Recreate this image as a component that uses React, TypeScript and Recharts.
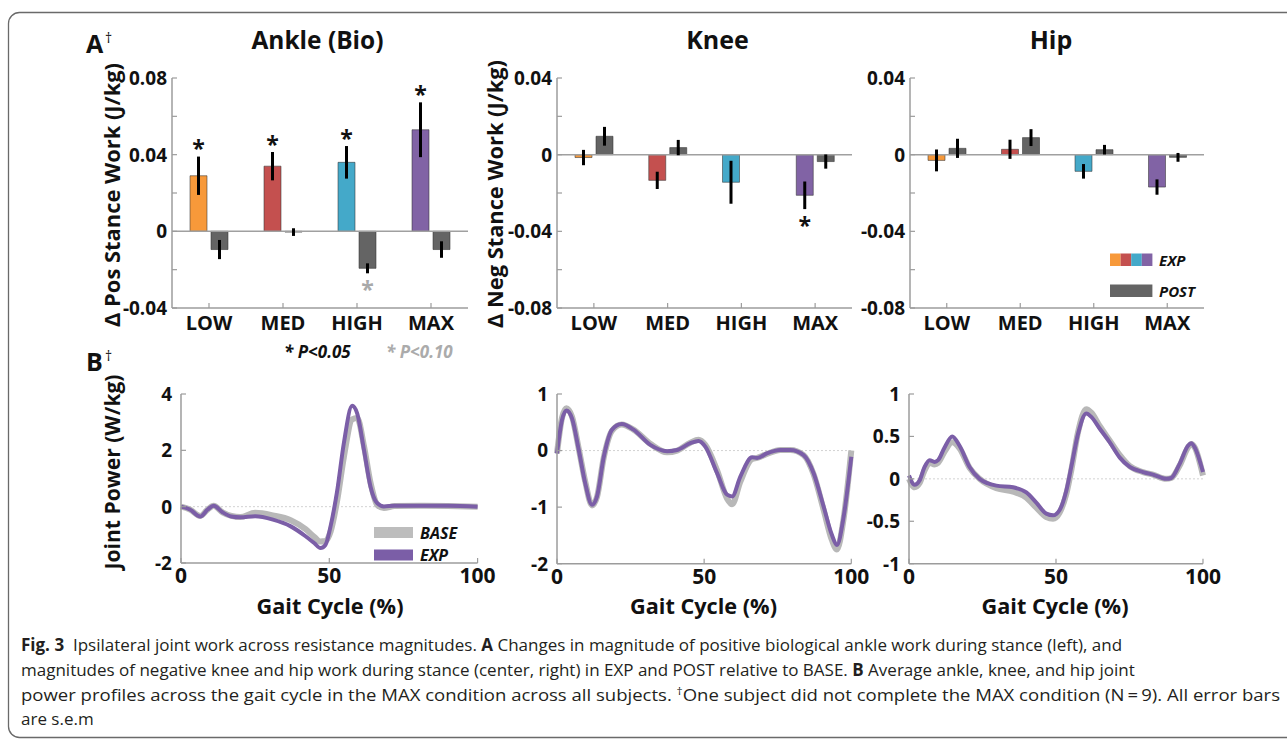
import React from 'react';
import {
  ComposedChart,
  Bar,
  Cell,
  ErrorBar,
  XAxis,
  YAxis,
  ReferenceLine,
  LabelList,
  LineChart,
  Line,
} from 'recharts';

const FONT = '"Open Sans", "Noto Sans", "DejaVu Sans", sans-serif';
const AXIS = '#9c9c9c';
const INK = '#111111';

// ---------------- Panel A data ----------------
const categories = ['LOW', 'MED', 'HIGH', 'MAX'];
const expColors = ['#F7993A', '#C4504F', '#44A9C9', '#8163A5'];
const postColor = '#646464';

const ankleExp = [0.029, 0.034, 0.036, 0.053];
const ankleExpErr = [0.01, 0.0074, 0.0085, 0.0143];
const ankleExpSig = ['*', '*', '*', '*'];
const anklePost = [-0.0095, -0.0004, -0.0193, -0.0095];
const anklePostErr = [0.005, 0.002, 0.0026, 0.0043];
const anklePostSig = ['', '', 'gray', ''];

const kneeExp = [-0.0015, -0.0134, -0.0144, -0.0212];
const kneeExpErr = [0.004, 0.0045, 0.0112, 0.0072];
const kneeExpSig = ['', '', '', '*'];
const kneePost = [0.0096, 0.0037, 0, -0.0036];
const kneePostErr = [0.0049, 0.004, 0.006, 0.0037];

const hipExp = [-0.003, 0.0028, -0.0087, -0.0169];
const hipExpErr = [0.0057, 0.005, 0.0038, 0.004];
const hipPost = [0.0033, 0.0089, 0.0026, -0.0014];
const hipPostErr = [0.005, 0.0044, 0.0025, 0.0023];
const noSig = ['', '', '', ''];

const posWorkTicks = [-0.04, -0.02, 0, 0.02, 0.04, 0.06, 0.08];
const posWorkLabels = ['-0.04', '', '0', '', '0.04', '', '0.08'];
const negWorkTicks = [-0.08, -0.06, -0.04, -0.02, 0, 0.02, 0.04];
const negWorkLabels = ['-0.08', '', '-0.04', '', '0', '', '0.04'];

// ---------------- Panel B data ----------------
const gaitTicks = [0, 50, 100];

const ankleGait = [0, 3, 6.5, 9, 11, 14, 17, 20, 25, 31, 37, 42, 45, 47, 48.7, 50.4, 52.7, 54.9, 57.7, 59.4, 61.7, 63.9, 66.2, 68.4, 72, 80, 90, 100];
const ankleBasePower = [0, -0.1, -0.33, -0.1, 0.03, -0.2, -0.33, -0.37, -0.22, -0.31, -0.48, -0.8, -1.08, -1.24, -1.22, -0.9, 0.25, 1.75, 3.1, 3.15, 2.15, 0.85, 0.06, -0.05, 0.02, 0.03, 0.02, 0];
const ankleExpPower = [0, -0.1, -0.35, -0.1, 0.03, -0.2, -0.35, -0.38, -0.34, -0.46, -0.7, -1.05, -1.3, -1.47, -1.36, -0.71, 0.59, 2.25, 3.58, 3.31, 2.01, 0.71, 0.12, 0.01, 0.03, 0.03, 0.03, 0];
const ankleTicks = [-2, 0, 2, 4];
const ankleTickLabels = ['-2', '0', '2', '4'];

const kneeGait = [0, 1.7, 3.2, 5.1, 7.4, 9.6, 11.9, 13.6, 15.9, 18.7, 22, 26, 31.7, 37.4, 40.8, 45.3, 48.1, 50.4, 54.4, 57.8, 59.5, 62.3, 66.3, 68, 71.3, 75.9, 79.3, 83.8, 87.2, 90.6, 93.4, 95.1, 97.4, 100];
const kneeBasePower = [-0.05, 0.58, 0.75, 0.6, 0.03, -0.55, -0.97, -0.82, -0.12, 0.35, 0.46, 0.37, 0.12, -0.03, 0, 0.14, 0.19, 0.1, -0.35, -0.85, -0.95, -0.55, -0.15, -0.13, -0.06, 0.01, 0.01, -0.08, -0.42, -1.05, -1.58, -1.75, -1.2, 0];
const kneeExpPower = [-0.05, 0.54, 0.71, 0.57, 0.01, -0.58, -0.96, -0.81, -0.11, 0.37, 0.47, 0.37, 0.1, -0.01, 0.01, 0.13, 0.17, 0.07, -0.4, -0.78, -0.81, -0.46, -0.12, -0.13, -0.05, 0.01, 0.01, -0.08, -0.4, -0.99, -1.49, -1.67, -1.17, -0.11];
const kneeTicks = [-2, -1, 0, 1];
const kneeTickLabels = ['-2', '-1', '0', '1'];

const hipGait = [0, 1.9, 3.6, 5.3, 7, 8.7, 9.9, 12.1, 14.7, 17.2, 20.6, 24, 29.7, 35.4, 39.9, 43.3, 46.7, 49, 51.2, 53.5, 55.2, 57.5, 60.3, 62, 64.9, 68.3, 71.7, 75.1, 79.6, 83, 87.5, 89.2, 92.1, 94.9, 96, 97.2, 100];
const hipBasePower = [0, -0.1, -0.05, 0.1, 0.19, 0.17, 0.19, 0.32, 0.43, 0.36, 0.13, 0, -0.11, -0.15, -0.22, -0.34, -0.45, -0.47, -0.4, -0.18, 0.1, 0.55, 0.82, 0.78, 0.62, 0.45, 0.28, 0.15, 0.08, 0.05, 0, 0.01, 0.16, 0.37, 0.41, 0.37, 0.04];
const hipExpPower = [0.04, -0.07, -0.02, 0.14, 0.22, 0.2, 0.22, 0.37, 0.5, 0.39, 0.14, 0, -0.08, -0.1, -0.16, -0.28, -0.41, -0.43, -0.37, -0.14, 0.14, 0.53, 0.77, 0.73, 0.59, 0.43, 0.25, 0.14, 0.08, 0.05, 0, 0.01, 0.18, 0.39, 0.42, 0.37, 0.08];
const hipTicks = [-1, -0.5, 0, 0.5, 1];
const hipTickLabels = ['-1', '-0.5', '0', '0.5', '1'];

// ---------------- helpers ----------------
type Box = { l: number; r: number; t: number; b: number };

const valTick = (ticks: number[], labels: string[], gap: number, size: number) => (p: any) => {
  const v = Number(p?.payload?.value);
  const idx = ticks.findIndex((t) => Math.abs(t - v) < 1e-9);
  const lab = idx >= 0 ? labels[idx] : '';
  return (
    <g>
      <line x1={p.x} x2={p.x + 5} y1={p.y} y2={p.y} stroke={AXIS} strokeWidth={1.2} />
      {lab ? (
        <text x={p.x - gap} y={p.y} dy="0.36em" textAnchor="end" fontFamily={FONT} fontWeight={700} fontSize={size} fill={INK}>
          {lab}
        </text>
      ) : null}
    </g>
  );
};

const bottomTick = (size: number, dy: number) => (p: any) => (
  <g>
    <line x1={p.x} x2={p.x} y1={p.y} y2={p.y - 5} stroke={AXIS} strokeWidth={1.2} />
    <text x={p.x} y={p.y} dy={dy} textAnchor="middle" fontFamily={FONT} fontWeight={700} fontSize={size} fill={INK}>
      {String(p?.payload?.value)}
    </text>
  </g>
);

const starContent = (means: number[], errs: number[], sigs: string[]) => (props: any) => {
  const vb = props.viewBox || {};
  const x = Number(props.x ?? vb.x);
  const y = Number(props.y ?? vb.y);
  const w = Number(props.width ?? vb.width);
  const h = Number(props.height ?? vb.height);
  const i = categories.indexOf(String(props.value));
  if (i < 0 || !sigs[i]) return null;
  const m = means[i];
  const e = errs[i];
  const top = Math.min(y, y + h);
  const bot = Math.max(y, y + h);
  const len = bot - top;
  if (!len || !m || !isFinite(len)) return null;
  const ePx = (len * e) / Math.abs(m);
  const cx = x + w / 2;
  const cy = m > 0 ? top - ePx - 12 : bot + ePx + 12;
  return (
    <text x={cx} y={cy} dy="0.55em" textAnchor="middle" fontFamily={FONT} fontWeight={700} fontSize={23} fill={sigs[i] === 'gray' ? '#a9a9a9' : INK}>
      *
    </text>
  );
};

function WorkPanel(props: {
  box: Box;
  ticks: number[];
  labels: string[];
  exp: number[];
  expErr: number[];
  expSig: string[];
  post: number[];
  postErr: number[];
  postSig: string[];
}) {
  const { box, ticks, labels, exp, expErr, expSig, post, postErr, postSig } = props;
  const data = categories.map((c, i) => ({ cat: c, exp: exp[i], expErr: expErr[i], post: post[i], postErr: postErr[i] }));
  const yw = 80;
  const mt = 14;
  const mr = 12;
  const xh = 40;
  const width = box.r - box.l + yw + mr;
  const height = box.b - box.t + mt + xh;
  return (
    <div style={{ position: 'absolute', left: box.l - yw, top: box.t - mt, width, height }}>
      <ComposedChart width={width} height={height} data={data} margin={{ top: mt, right: mr, bottom: 0, left: 0 }} barSize={17} barGap={4}>
        <XAxis
          dataKey="cat"
          height={xh}
          interval={0}
          tickSize={0}
          tickMargin={0}
          tickLine={false}
          axisLine={{ stroke: AXIS, strokeWidth: 1.5 }}
          tick={bottomTick(20, 22)}
        />
        <YAxis
          type="number"
          width={yw}
          domain={[ticks[0], ticks[ticks.length - 1]]}
          ticks={ticks}
          interval={0}
          allowDataOverflow
          tickSize={0}
          tickMargin={0}
          tickLine={false}
          axisLine={{ stroke: AXIS, strokeWidth: 1.5 }}
          tick={valTick(ticks, labels, 5, 19)}
        />
        <ReferenceLine y={0} stroke="#a0a0a0" strokeWidth={1.5} />
        <Bar dataKey="exp" isAnimationActive={false} stroke="#333" strokeOpacity={0.55} strokeWidth={1}>
          {data.map((d, i) => (
            <Cell key={d.cat} fill={expColors[i]} />
          ))}
          <ErrorBar dataKey="expErr" width={0} stroke="#000" strokeWidth={3} direction="y" />
          <LabelList dataKey="cat" content={starContent(exp, expErr, expSig)} />
        </Bar>
        <Bar dataKey="post" isAnimationActive={false} fill={postColor} stroke="#333" strokeOpacity={0.55} strokeWidth={1}>
          <ErrorBar dataKey="postErr" width={0} stroke="#000" strokeWidth={3} direction="y" />
          <LabelList dataKey="cat" content={starContent(post, postErr, postSig)} />
        </Bar>
      </ComposedChart>
    </div>
  );
}

function PowerPanel(props: { box: Box; xs: number[]; base: number[]; exp: number[]; ticks: number[]; labels: string[] }) {
  const { box, xs, base, exp, ticks, labels } = props;
  const data = xs.map((x, i) => ({ x, base: base[i], exp: exp[i] }));
  const yw = 80;
  const mt = 14;
  const mr = 20;
  const xh = 30;
  const width = box.r - box.l + yw + mr;
  const height = box.b - box.t + mt + xh;
  return (
    <div style={{ position: 'absolute', left: box.l - yw, top: box.t - mt, width, height }}>
      <LineChart width={width} height={height} data={data} margin={{ top: mt, right: mr, bottom: 0, left: 0 }}>
        <XAxis
          dataKey="x"
          type="number"
          domain={[0, 100]}
          ticks={gaitTicks}
          interval={0}
          height={xh}
          tickSize={0}
          tickMargin={0}
          tickLine={false}
          axisLine={{ stroke: AXIS, strokeWidth: 1.5 }}
          tick={bottomTick(21, 20.5)}
        />
        <YAxis
          type="number"
          width={yw}
          domain={[ticks[0], ticks[ticks.length - 1]]}
          ticks={ticks}
          interval={0}
          allowDataOverflow
          tickSize={0}
          tickMargin={0}
          tickLine={false}
          axisLine={{ stroke: AXIS, strokeWidth: 1.5 }}
          tick={valTick(ticks, labels, 9, 19)}
        />
        <ReferenceLine y={0} stroke="#d2d2d2" strokeWidth={1} strokeDasharray="2 2" />
        <Line dataKey="base" type="monotone" stroke="#b8b8b8" strokeWidth={6} dot={false} activeDot={false} isAnimationActive={false} />
        <Line dataKey="exp" type="monotone" stroke="#7b5ea7" strokeWidth={4} dot={false} activeDot={false} isAnimationActive={false} />
      </LineChart>
    </div>
  );
}

const T = { fontFamily: FONT, fontWeight: 700, fill: INK } as const;

function Overlay() {
  const capFont = { fontFamily: FONT, fontSize: 17, fill: '#231f20' };
  return (
    <svg width={1287} height={739} style={{ position: 'absolute', left: 0, top: 0, pointerEvents: 'none' }}>
      <rect x={8.5} y={12.5} width={1320} height={725} rx={11} ry={11} fill="none" stroke="#6a6a6a" strokeWidth={1.3} />

      {/* panel letters */}
      <text x={86} y={53} {...T} fontSize={25}>A</text>
      <text x={105} y={43} {...T} fontSize={14} fontWeight={400}>†</text>
      <text x={86} y={371} {...T} fontSize={25}>B</text>
      <text x={105} y={361} {...T} fontSize={14} fontWeight={400}>†</text>

      {/* titles */}
      <text x={317.5} y={48.5} {...T} fontSize={25} textAnchor="middle" textLength={132} lengthAdjust="spacingAndGlyphs">Ankle (Bio)</text>
      <text x={717.5} y={48.5} {...T} fontSize={25} textAnchor="middle">Knee</text>
      <text x={1051} y={48.5} {...T} fontSize={25} textAnchor="middle">Hip</text>

      {/* y labels */}
      <text x={113} y={195} dy="0.32em" {...T} fontSize={22} textAnchor="middle" transform="rotate(-90 113 195)" textLength={264} lengthAdjust="spacingAndGlyphs">Δ Pos Stance Work (J/kg)</text>
      <text x={496} y={194} dy="0.32em" {...T} fontSize={22} textAnchor="middle" transform="rotate(-90 496 194)" textLength={268} lengthAdjust="spacingAndGlyphs">Δ Neg Stance Work (J/kg)</text>
      <text x={113} y={472} dy="0.32em" {...T} fontSize={22} textAnchor="middle" transform="rotate(-90 113 472)" textLength={195} lengthAdjust="spacingAndGlyphs">Joint Power (W/kg)</text>

      {/* x labels B */}
      <text x={330} y={614} {...T} fontSize={21.5} textAnchor="middle" textLength={147} lengthAdjust="spacingAndGlyphs">Gait Cycle (%)</text>
      <text x={703.5} y={614} {...T} fontSize={21.5} textAnchor="middle" textLength={147} lengthAdjust="spacingAndGlyphs">Gait Cycle (%)</text>
      <text x={1055} y={614} {...T} fontSize={21.5} textAnchor="middle" textLength={147} lengthAdjust="spacingAndGlyphs">Gait Cycle (%)</text>

      {/* significance legend */}
      <text x={284} y={358} {...T} fontSize={17} fontStyle="italic">* P&lt;0.05</text>
      <text x={386} y={358} {...T} fontSize={17} fontStyle="italic" fill="#ababab">* P&lt;0.10</text>

      {/* EXP / POST legend */}
      {expColors.map((c, i) => (
        <rect key={c} x={1110 + i * 10.6} y={253.5} width={10.6} height={12.5} fill={c} />
      ))}
      <text x={1159} y={266} {...T} fontSize={15} fontStyle="italic">EXP</text>
      <rect x={1110} y={284.5} width={42.4} height={12.5} fill={postColor} />
      <text x={1159} y={296.5} {...T} fontSize={15} fontStyle="italic">POST</text>

      {/* BASE / EXP legend */}
      <rect x={374} y={527} width={39} height={11} fill="#bdbdbd" />
      <text x={420} y={538.5} {...T} fontSize={16} fontStyle="italic">BASE</text>
      <rect x={374} y={549.5} width={39} height={11} fill="#7b5ea7" />
      <text x={420} y={560.5} {...T} fontSize={16} fontStyle="italic">EXP</text>

      {/* caption */}
      <text x={21} y={651} {...capFont}>
        <tspan fontWeight={700}>Fig. 3</tspan>
        <tspan>{'\u00a0\u00a0Ipsilateral joint work across resistance magnitudes. '}</tspan>
        <tspan fontWeight={700}>A</tspan>
        <tspan>{' Changes in magnitude of positive biological ankle work during stance (left), and'}</tspan>
      </text>
      <text x={21} y={676} {...capFont}>
        <tspan>{'magnitudes of negative knee and hip work during stance (center, right) in EXP and POST relative to BASE. '}</tspan>
        <tspan fontWeight={700}>B</tspan>
        <tspan>{' Average ankle, knee, and hip joint'}</tspan>
      </text>
      <text x={21} y={701} {...capFont} textLength={1259} lengthAdjust="spacingAndGlyphs">
        <tspan>{'power profiles across the gait cycle in the MAX condition across all subjects. '}</tspan>
        <tspan dy={-6} fontSize={11}>†</tspan>
        <tspan dy={6}>{'One subject did not complete the MAX condition (N\u2009=\u20099). All error bars'}</tspan>
      </text>
      <text x={21} y={725} {...capFont}>are s.e.m</text>
    </svg>
  );
}

export default function App() {
  return (
    <div style={{ position: 'absolute', left: 0, top: 0, width: 1287, height: 739, background: '#fff', overflow: 'hidden' }}>
      <WorkPanel
        box={{ l: 172, r: 468, t: 78.3, b: 308.3 }}
        ticks={posWorkTicks}
        labels={posWorkLabels}
        exp={ankleExp}
        expErr={ankleExpErr}
        expSig={ankleExpSig}
        post={anklePost}
        postErr={anklePostErr}
        postSig={anklePostSig}
      />
      <WorkPanel
        box={{ l: 557, r: 852, t: 78.3, b: 308.3 }}
        ticks={negWorkTicks}
        labels={negWorkLabels}
        exp={kneeExp}
        expErr={kneeExpErr}
        expSig={kneeExpSig}
        post={kneePost}
        postErr={kneePostErr}
        postSig={noSig}
      />
      <WorkPanel
        box={{ l: 910, r: 1204, t: 78.3, b: 308.3 }}
        ticks={negWorkTicks}
        labels={negWorkLabels}
        exp={hipExp}
        expErr={hipExpErr}
        expSig={noSig}
        post={hipPost}
        postErr={hipPostErr}
        postSig={noSig}
      />
      <PowerPanel box={{ l: 180.7, r: 477.3, t: 394.3, b: 563.3 }} xs={ankleGait} base={ankleBasePower} exp={ankleExpPower} ticks={ankleTicks} labels={ankleTickLabels} />
      <PowerPanel box={{ l: 556.7, r: 851, t: 394.3, b: 564 }} xs={kneeGait} base={kneeBasePower} exp={kneeExpPower} ticks={kneeTicks} labels={kneeTickLabels} />
      <PowerPanel box={{ l: 909.3, r: 1203.3, t: 394.3, b: 564 }} xs={hipGait} base={hipBasePower} exp={hipExpPower} ticks={hipTicks} labels={hipTickLabels} />
      <Overlay />
    </div>
  );
}
